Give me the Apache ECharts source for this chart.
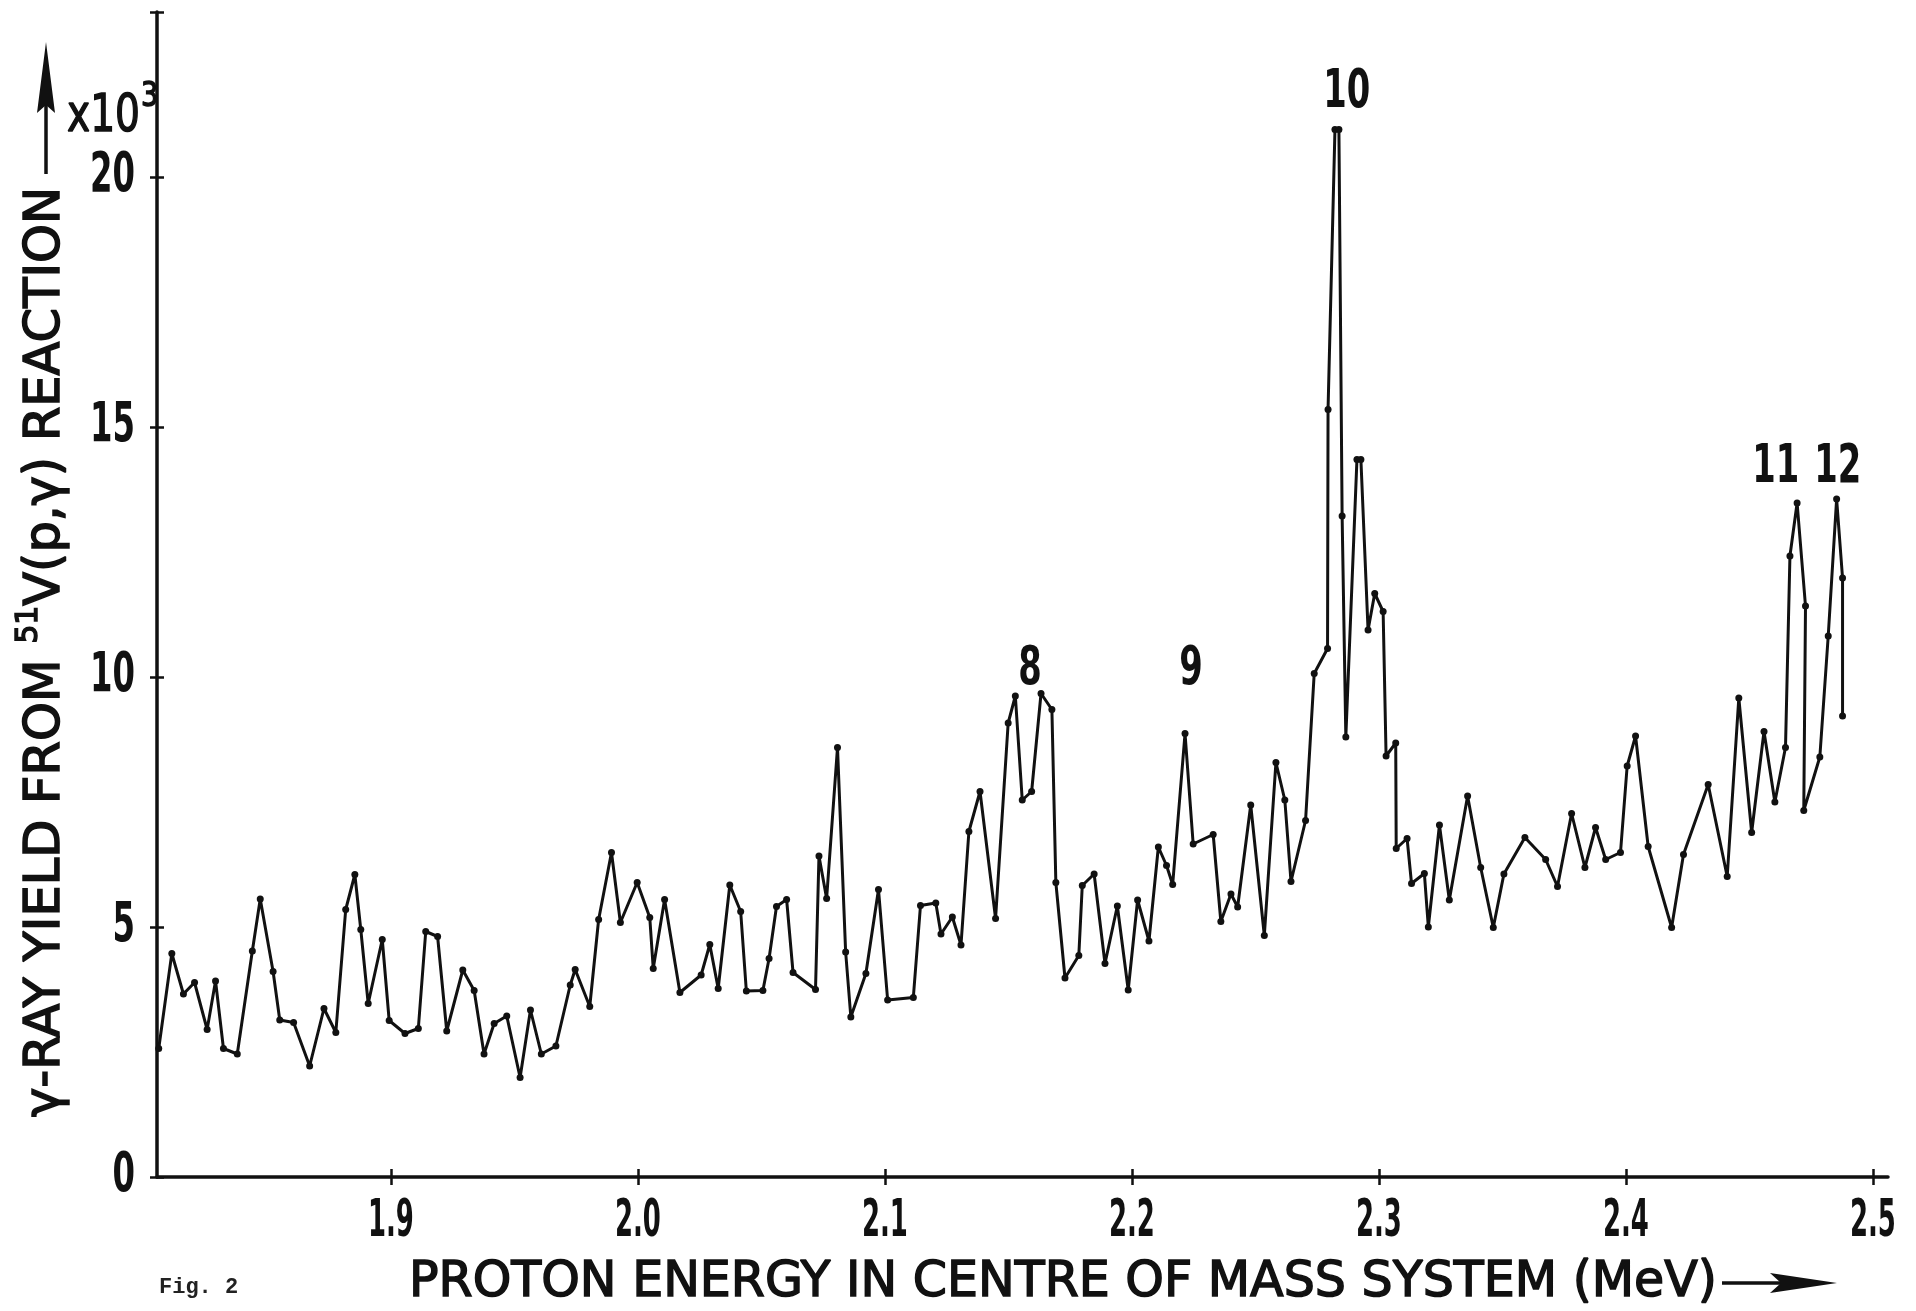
<!DOCTYPE html>
<html lang="en">
<head>
<meta charset="UTF-8">
<title>Fig. 2 - gamma-ray yield from 51V(p,gamma)</title>
<script src="https://cdn.jsdelivr.net/npm/echarts@6.0.0/dist/echarts.min.js"></script>
<style>
    html, body { margin: 0; padding: 0; background: #fff; }
    #chart { width: 1916px; height: 1311px; }
</style>
</head>
<body>
<div id="chart"></div>
<script>
// proton energy (MeV) and gamma-ray yield (x10^3)
const energy = [
    1.8060, 1.8113, 1.8160, 1.8205, 1.8256, 1.8290, 1.8322, 1.8378, 1.8439, 1.8471,
    1.8523, 1.8550, 1.8606, 1.8671, 1.8729, 1.8777, 1.8817, 1.8854, 1.8878, 1.8908,
    1.8965, 1.8993, 1.9057, 1.9111, 1.9141, 1.9189, 1.9226, 1.9291, 1.9337, 1.9377,
    1.9418, 1.9469, 1.9523, 1.9565, 1.9609, 1.9668, 1.9726, 1.9746, 1.9805, 1.9841,
    1.9893, 1.9929, 1.9997, 2.0048, 2.0062, 2.0108, 2.0170, 2.0256, 2.0291, 2.0325,
    2.0372, 2.0416, 2.0439, 2.0506, 2.0531, 2.0561, 2.0602, 2.0628, 2.0719, 2.0733,
    2.0764, 2.0808, 2.0841, 2.0862, 2.0923, 2.0974, 2.1011, 2.1115, 2.1144, 2.1206,
    2.1227, 2.1273, 2.1308, 2.1340, 2.1385, 2.1448, 2.1499, 2.1528, 2.1556, 2.1594,
    2.1632, 2.1676, 2.1692, 2.1729, 2.1785, 2.1799, 2.1847, 2.1891, 2.1941, 2.1985,
    2.2023, 2.2069, 2.2107, 2.2140, 2.2165, 2.2215, 2.2248, 2.2329, 2.2360, 2.2401,
    2.2428, 2.2481, 2.2536, 2.2583, 2.2619, 2.2644, 2.2703, 2.2738, 2.2792, 2.2794,
    2.2822, 2.2838, 2.2851, 2.2866, 2.2911, 2.2927, 2.2956, 2.2983, 2.3017, 2.3029,
    2.3068, 2.3070, 2.3114, 2.3132, 2.3184, 2.3200, 2.3245, 2.3285, 2.3359, 2.3412,
    2.3463, 2.3506, 2.3591, 2.3675, 2.3723, 2.3780, 2.3834, 2.3877, 2.3918, 2.3978,
    2.4005, 2.4039, 2.4090, 2.4185, 2.4233, 2.4333, 2.4410, 2.4457, 2.4509, 2.4559,
    2.4603, 2.4646, 2.4664, 2.4693, 2.4727, 2.4720, 2.4785, 2.4819, 2.4853, 2.4877,
    2.4877
];
const yieldK = [
    2.57, 4.47, 3.66, 3.89, 2.95, 3.92, 2.57, 2.46, 4.52, 5.56,
    4.11, 3.14, 3.09, 2.22, 3.37, 2.89, 5.35, 6.05, 4.95, 3.47,
    4.75, 3.13, 2.87, 2.97, 4.91, 4.81, 2.92, 4.14, 3.73, 2.46,
    3.07, 3.22, 1.99, 3.34, 2.46, 2.62, 3.84, 4.15, 3.41, 5.15,
    6.49, 5.09, 5.89, 5.19, 4.17, 5.55, 3.69, 4.04, 4.65, 3.77,
    5.84, 5.31, 3.72, 3.73, 4.37, 5.41, 5.55, 4.09, 3.75, 6.42,
    5.57, 8.59, 4.50, 3.20, 4.07, 5.75, 3.54, 3.59, 5.43, 5.48,
    4.86, 5.20, 4.64, 6.91, 7.71, 5.17, 9.08, 9.62, 7.54, 7.71,
    9.67, 9.35, 5.89, 3.98, 4.43, 5.83, 6.06, 4.27, 5.42, 3.74,
    5.54, 4.72, 6.60, 6.23, 5.85, 8.87, 6.66, 6.85, 5.11, 5.66,
    5.40, 7.44, 4.83, 8.29, 7.54, 5.91, 7.13, 10.07, 10.57, 15.35,
    20.95, 20.95, 13.22, 8.80, 14.35, 14.35, 10.94, 11.67, 11.31, 8.42,
    8.68, 6.57, 6.77, 5.87, 6.07, 5.00, 7.04, 5.54, 7.62, 6.19,
    4.99, 6.06, 6.79, 6.35, 5.81, 7.27, 6.19, 6.99, 6.35, 6.49,
    8.22, 8.82, 6.61, 4.99, 6.45, 7.85, 6.01, 9.58, 6.89, 8.91,
    7.50, 8.59, 12.42, 13.48, 11.42, 7.33, 8.40, 10.82, 13.56, 11.98,
    9.22
];
const xTicks = [1.9, 2.0, 2.1, 2.2, 2.3, 2.4, 2.5];
const yTicks = [0, 5, 10, 15, 20];
const peakNames = ['8', '9', '10', '11', '12'];
const peakEnergy = [2.1587, 2.2239, 2.2870, 2.4607, 2.4858];
const peakYield = [10.14, 10.14, 21.68, 14.18, 14.18];

const INK = '#111';
const FONT = "'DejaVu Sans', 'Liberation Sans', sans-serif";
const MONO = "'Liberation Mono', 'DejaVu Sans Mono', monospace";

// the lettering is tall and narrow; texts are drawn at full height and squeezed sideways
const measureCtx = document.createElement('canvas').getContext('2d');
function textWidth(text, size, weight) {
    measureCtx.font = weight + ' ' + size + 'px ' + FONT;
    return measureCtx.measureText(text).width;
}

function txt(text, x, y, size, weight, align) {
    const style = {
        text: text, fontSize: size, fontFamily: FONT, fontWeight: weight,
        fill: INK, align: align || 'left', verticalAlign: 'middle'
    };
    // regular weight gets a thin outline, closer to the pen lettering
    if (weight === 'normal') {
        style.stroke = INK;
        style.lineWidth = 1.5;
    }
    return { type: 'text', x: x, y: y, silent: true, style: style };
}

function squeezed(text, x, y, size, weight, align, scale) {
    return { type: 'group', x: x, y: y, scaleX: scale, children: [txt(text, 0, 0, size, weight, align)] };
}

const chart = echarts.init(document.getElementById('chart'));

const option = {
    animation: false,
    backgroundColor: '#fff',
    grid: { left: 157, right: 28, top: 12, bottom: 134, outerBoundsMode: 'none' },
    xAxis: [
        {
            type: 'value', min: 1.8053, max: 2.5061,
            axisLine: { lineStyle: { color: INK, width: 3.5 } },
            axisTick: { customValues: xTicks, length: 8, lineStyle: { color: INK, width: 2.5 } },
            axisLabel: { show: false },
            splitLine: { show: false }
        },
        {
            type: 'value', min: 1.8053, max: 2.5061, position: 'bottom',
            axisLine: { show: false },
            axisTick: { customValues: xTicks, inside: true, length: 8, lineStyle: { color: INK, width: 2.5 } },
            axisLabel: { show: false },
            splitLine: { show: false }
        }
    ],
    yAxis: [
        {
            type: 'value', min: 0, max: 23.3, interval: 5,
            axisLine: { show: true, lineStyle: { color: INK, width: 3.5 } },
            axisTick: { show: true, length: 7, lineStyle: { color: INK, width: 2.5 } },
            axisLabel: { show: false },
            splitLine: { show: false }
        },
        {
            type: 'value', min: 0, max: 23.3, interval: 5, position: 'left',
            axisLine: { show: false },
            axisTick: { show: true, inside: true, length: 7, lineStyle: { color: INK, width: 2.5 } },
            axisLabel: { show: false },
            splitLine: { show: false }
        }
    ],
    series: [
        {
            name: 'yield',
            type: 'line',
            data: energy.map((e, i) => [e, yieldK[i]]),
            symbol: 'circle',
            symbolSize: 7,
            lineStyle: { color: INK, width: 3 },
            itemStyle: { color: INK },
            silent: true
        }
    ]
};

chart.setOption(option);

// tick labels and peak numbers, placed through the axes' own scales
const xLabelScale = 46 / textWidth('2.0', 52, 'bold');
const yLabelScale = 45 / textWidth('20', 55, 'bold');
const peakScale = 47 / textWidth('10', 53, 'bold');
const graphics = [];

xTicks.forEach(v => {
    const px = chart.convertToPixel({ xAxisIndex: 0 }, v);
    graphics.push(squeezed(v.toFixed(1), px, 1222, 52, 'bold', 'center', xLabelScale));
});
yTicks.forEach(v => {
    const py = chart.convertToPixel({ yAxisIndex: 0 }, v);
    graphics.push(squeezed(String(v), 135, py, 55, 'bold', 'right', yLabelScale));
});
peakNames.forEach((name, i) => {
    const p = chart.convertToPixel({ gridIndex: 0 }, [peakEnergy[i], peakYield[i]]);
    graphics.push(squeezed(name, p[0], p[1], 53, 'bold', 'center', peakScale));
});

// y axis title "γ-RAY YIELD FROM 51V(p,γ) REACTION", reading upwards
const yA = 'γ-RAY YIELD FROM ', yS = '51', yB = 'V(p,γ) REACTION';
const wA = textWidth(yA, 50, 'normal');
const wS = textWidth(yS, 30, 'normal');
const wB = textWidth(yB, 50, 'normal');
graphics.push({
    type: 'group', x: 46, y: 1117, rotation: Math.PI / 2,
    children: [{
        type: 'group', scaleX: 930 / (wA + wS + wB),
        children: [
            txt(yA, 0, 0, 50, 'normal'),
            txt(yS, wA, -17, 30, 'normal'),
            txt(yB, wA + wS, 0, 50, 'normal')
        ]
    }]
});
graphics.push(
    { type: 'line', silent: true, shape: { x1: 46, y1: 174, x2: 46, y2: 100 }, style: { stroke: INK, lineWidth: 3.5 } },
    { type: 'polygon', silent: true, shape: { points: [[46, 42], [55, 113], [46, 105], [37, 113]] }, style: { fill: INK } }
);

// x10^3 next to the top of the y axis
graphics.push(squeezed('x10', 67, 117, 52, 'normal', 'left', 73 / textWidth('x10', 52, 'normal')));
graphics.push(squeezed('3', 141, 97, 34, 'normal', 'left', 0.8));

// x axis title with arrow
const xTitle = 'PROTON ENERGY IN CENTRE OF MASS SYSTEM (MeV)';
graphics.push(squeezed(xTitle, 409, 1283, 50, 'normal', 'left', 1308 / textWidth(xTitle, 50, 'normal')));
graphics.push(
    { type: 'line', silent: true, shape: { x1: 1722, y1: 1283, x2: 1785, y2: 1283 }, style: { stroke: INK, lineWidth: 3.5 } },
    { type: 'polygon', silent: true, shape: { points: [[1770, 1273], [1837, 1283], [1770, 1293], [1781, 1283]] }, style: { fill: INK } }
);

// figure number, typewritten
graphics.push({
    type: 'text', x: 159, y: 1287, silent: true,
    style: { text: 'Fig. 2', fontSize: 22, fontWeight: 'bold', fontFamily: MONO, fill: '#222', align: 'left', verticalAlign: 'middle' }
});

chart.setOption({ graphic: graphics });
</script>
</body>
</html>
